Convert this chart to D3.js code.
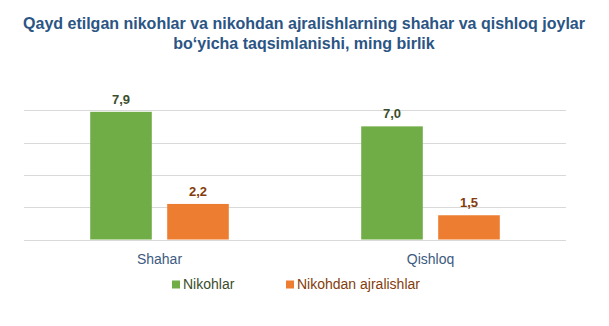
<!DOCTYPE html>
<html>
<head>
<meta charset="utf-8">
<script src="https://cdn.jsdelivr.net/npm/d3@7"></script>
<style>
  html, body { margin: 0; padding: 0; background: #fff; }
  svg { display: block; font-family: "Liberation Sans", Arial, sans-serif; }
</style>
</head>
<body>
<div id="chart"></div>
<script>
const titleLines = ["Qayd etilgan nikohlar va nikohdan ajralishlarning shahar va qishloq joylar", "bo\u2018yicha taqsimlanishi, ming birlik"];
const categories = ["Shahar", "Qishloq"];
const seriesNames = ["Nikohlar", "Nikohdan ajralishlar"];
const nikohlar = [7.9, 7.0];
const ajralishlar = [2.2, 1.5];
const gridTicks = [0, 2, 4, 6, 8];
const valueLabels = [["7,9", "7,0"], ["2,2", "1,5"]];

const colors = ["#70AD47", "#ED7D31"];
const labelColors = ["#3B4D2C", "#843C0C"];

const W = 609, H = 326;
const svg = d3.select("#chart").append("svg").attr("width", W).attr("height", H);

// Title
svg.append("g").selectAll("text").data(titleLines).join("text")
  .attr("x", 304).attr("y", (d, i) => 28.5 + i * 20)
  .attr("text-anchor", "middle")
  .attr("font-size", 16).attr("font-weight", "bold")
  .attr("fill", "#2B5584")
  .text(d => d);

const x0 = d3.scaleBand().domain(categories).range([24, 566]).padding(0);
const x1 = d3.scaleBand().domain(seriesNames).range([0, x0.bandwidth()]).paddingInner(0.2).paddingOuter(0.86);
const y = d3.scaleLinear().domain([0, 8]).range([239.5, 110.2]);

// Gridlines
svg.append("g").selectAll("line").data(gridTicks).join("line")
  .attr("x1", 24).attr("x2", 566)
  .attr("y1", d => Math.round(y(d)) + 0.5).attr("y2", d => Math.round(y(d)) + 0.5)
  .attr("stroke", "#D9D9D9").attr("stroke-width", 1);

const series = [nikohlar, ajralishlar];
series.forEach((vals, si) => {
  const g = svg.append("g");
  g.selectAll("rect").data(vals).join("rect")
    .attr("x", (d, i) => x0(categories[i]) + x1(seriesNames[si]))
    .attr("width", x1.bandwidth())
    .attr("y", d => y(d))
    .attr("height", d => y(0) - y(d))
    .attr("fill", colors[si]);
  g.selectAll("text").data(vals).join("text")
    .attr("x", (d, i) => x0(categories[i]) + x1(seriesNames[si]) + x1.bandwidth() / 2)
    .attr("y", d => y(d) - 8)
    .attr("text-anchor", "middle")
    .attr("font-size", 13).attr("font-weight", "bold")
    .attr("fill", labelColors[si])
    .text((d, i) => valueLabels[si][i]);
});

// Category labels
svg.append("g").selectAll("text").data(categories).join("text")
  .attr("x", d => x0(d) + x0.bandwidth() / 2)
  .attr("y", 263.5)
  .attr("text-anchor", "middle")
  .attr("font-size", 14)
  .attr("fill", "#3D5A80")
  .text(d => d);

// Legend
const legendX = [172, 286];
const lg = svg.append("g").selectAll("g").data(seriesNames).join("g")
  .attr("transform", (d, i) => `translate(${legendX[i]},0)`);
lg.append("rect").attr("x", 0).attr("y", 280.5).attr("width", 8).attr("height", 8)
  .attr("fill", (d, i) => colors[i]);
lg.append("text").attr("x", 11).attr("y", 289)
  .attr("font-size", 14)
  .attr("fill", (d, i) => labelColors[i])
  .text(d => d);
</script>
</body>
</html>
